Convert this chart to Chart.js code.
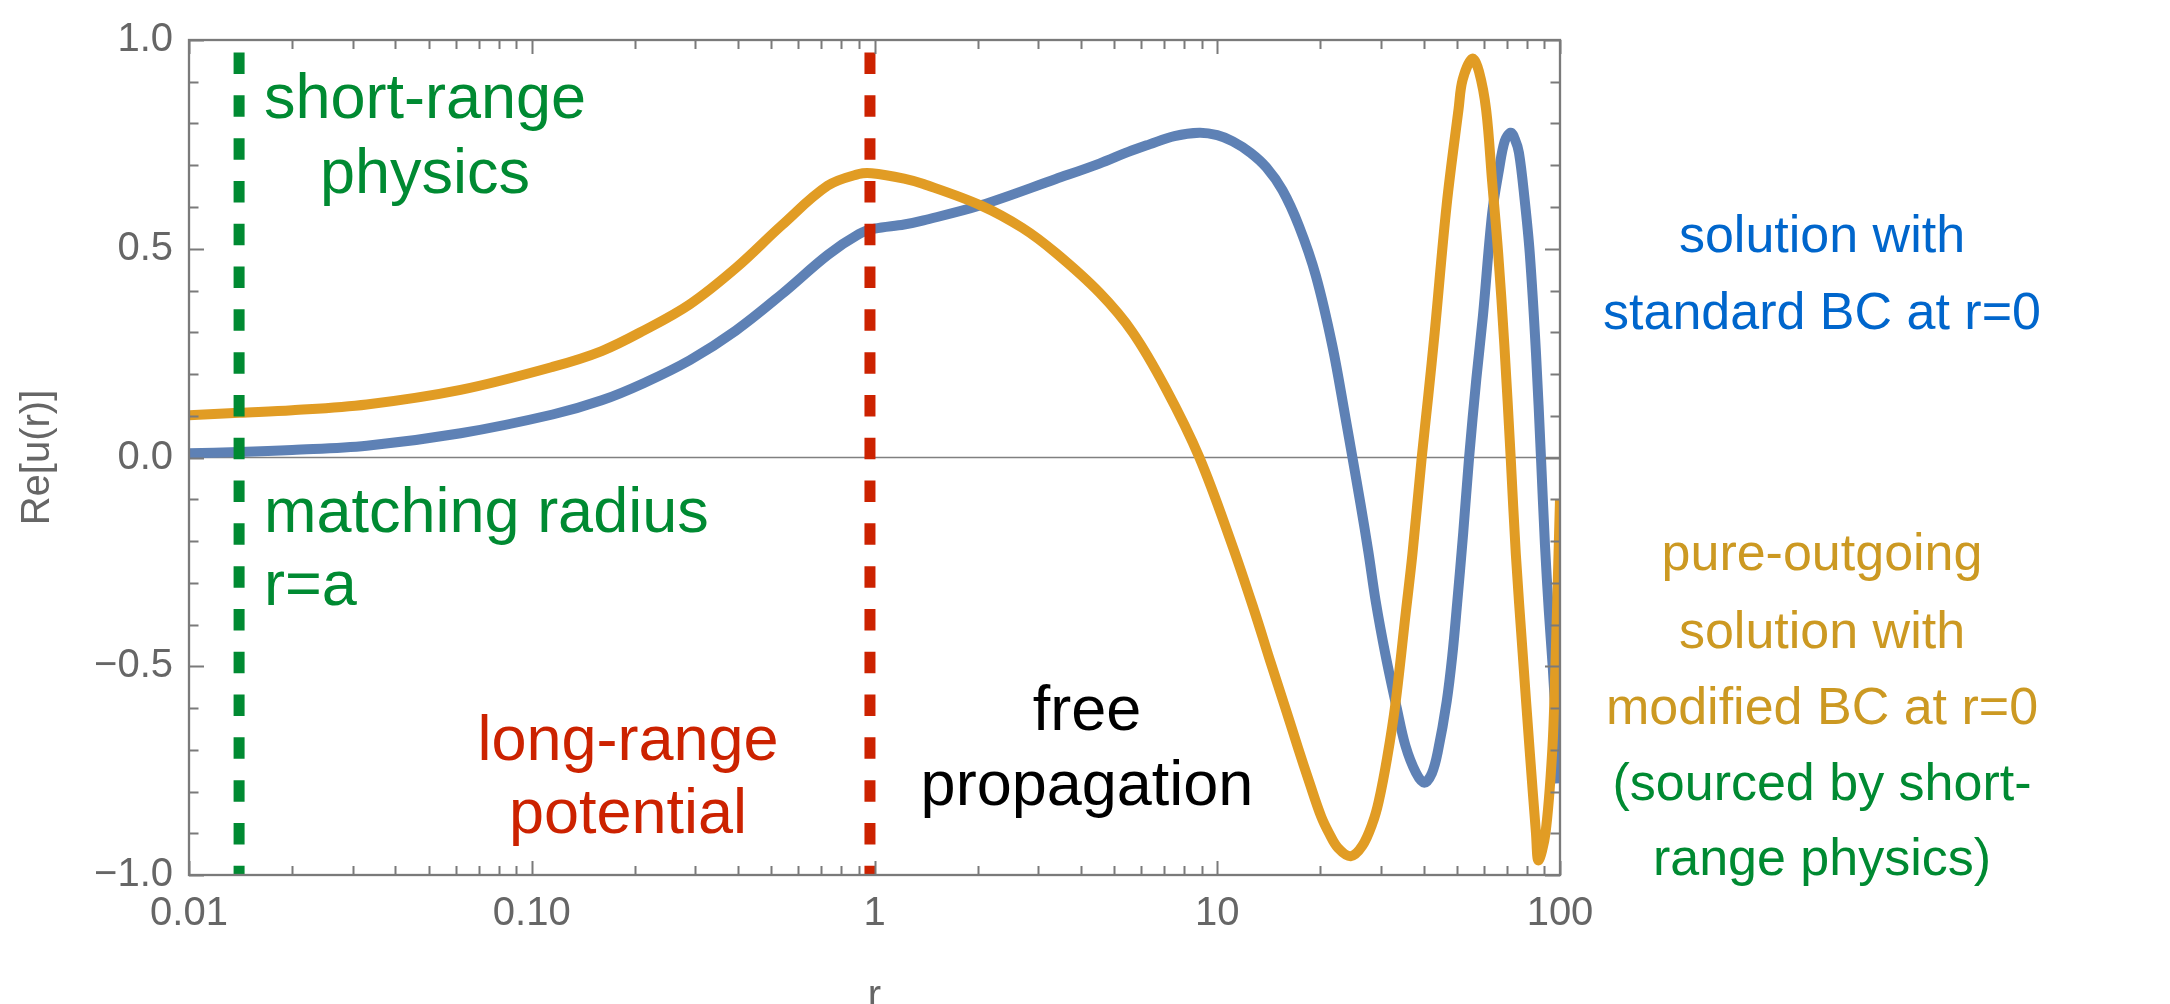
<!DOCTYPE html>
<html>
<head>
<meta charset="utf-8">
<script src="https://cdn.jsdelivr.net/npm/chart.js@4.4.1/dist/chart.umd.min.js"></script>
<style>
  html, body { margin: 0; padding: 0; background: #fff; }
  canvas { display: block; }
</style>
</head>
<body>
<canvas id="waveChart" width="2170" height="1004"></canvas>
<script>
// solution with the standard boundary condition at r = 0
const rBlue = [0.01, 0.014, 0.02, 0.033, 0.062, 0.115, 0.16, 0.212, 0.289, 0.394, 0.536, 0.73, 0.9, 1.0,
  1.22, 1.39, 2.04, 3.38, 4.53, 5.5, 6.34, 7.5, 8.87, 10.0, 11.1, 12.5, 13.9, 15.5, 17.3, 19.4, 21.7, 23.7,
  24.8, 26.2, 27.6, 29.0, 31.0, 33.4, 35.4, 38.0, 40.2, 42.3, 44.0, 46.7, 48.5, 50.1, 52.2, 54.3, 57.0,
  59.6, 63.4, 66.4, 69.0, 71.8, 73.8, 75.9, 78.8, 81.6, 85.1, 88.0, 90.4, 92.8, 95.2, 97.6, 100];
const reBlue = [0.010, 0.013, 0.018, 0.028, 0.058, 0.103, 0.137, 0.178, 0.233, 0.304, 0.391, 0.485, 0.535, 0.548,
  0.558, 0.568, 0.604, 0.667, 0.704, 0.732, 0.750, 0.770, 0.778, 0.772, 0.757, 0.730, 0.695, 0.640, 0.555, 0.435, 0.265, 0.092,
  0.0, -0.113, -0.226, -0.345, -0.475, -0.600, -0.690, -0.755, -0.779, -0.756, -0.705, -0.585, -0.475, -0.350, -0.180, 0.0, 0.188,
  0.340, 0.585, 0.690, 0.758, 0.778, 0.763, 0.730, 0.620, 0.490, 0.250, 0.0, -0.210, -0.370, -0.500, -0.650, -0.780];

// pure-outgoing solution with the modified boundary condition
const rOrange = [0.01, 0.014, 0.02, 0.033, 0.062, 0.115, 0.16, 0.212, 0.289, 0.394, 0.536, 0.73, 0.9, 0.98,
  1.22, 1.39, 2.04, 2.7, 3.38, 4.53, 5.66, 7.08, 8.87, 11.0, 12.8, 14.3, 15.8, 17.2, 18.6, 20.1, 21.2, 22.5,
  24.5, 26.5, 28.4, 29.6, 31.3, 33.1, 35.5, 37.1, 39.5, 41.3, 43.1, 46.7, 50.6, 52.0, 55.5, 58.0, 60.9,
  63.4, 66.0, 68.8, 71.8, 74.3, 77.8, 81.6, 85.1, 86.5, 90.7, 94.9, 96.9, 100];
const reOrange = [0.101, 0.107, 0.113, 0.127, 0.162, 0.217, 0.255, 0.304, 0.367, 0.454, 0.556, 0.651, 0.679, 0.681,
  0.668, 0.655, 0.604, 0.550, 0.490, 0.395, 0.300, 0.165, 0.0, -0.205, -0.365, -0.490, -0.600, -0.695, -0.780, -0.860, -0.900, -0.935,
  -0.955, -0.930, -0.875, -0.823, -0.720, -0.590, -0.370, -0.232, 0.0, 0.150, 0.300, 0.605, 0.835, 0.905, 0.955, 0.925, 0.832,
  0.660, 0.490, 0.270, 0.0, -0.230, -0.468, -0.704, -0.900, -0.965, -0.900, -0.704, -0.507, -0.100];

// region boundaries (r = a and the end of the long-range potential)
const matchingRadius = 0.014;
const potentialEdge = 0.97;

const xTickValues = [0.01, 0.1, 1, 10, 100];
const xTickLabels = ['0.01', '0.10', '1', '10', '100'];
const yTickValues = [-1, -0.5, 0, 0.5, 1];
const yTickLabels = ['\u22121.0', '\u22120.5', '0.0', '0.5', '1.0'];

const FONT = '"Liberation Sans", Arial, sans-serif';
const TICK_GRAY = '#666666';
const FRAME_GRAY = '#7a7a7a';
const GREEN = '#008a32';
const RED = '#cc2200';

function toPoints(xs, ys) {
  return xs.map((x, i) => ({ x: x, y: ys[i] }));
}

// text annotations, canvas pixel positions (baseline)
const notes = [
  { text: 'short-range', x: 425, y: 118, color: GREEN, size: 63, align: 'center' },
  { text: 'physics', x: 425, y: 193, color: GREEN, size: 63, align: 'center' },
  { text: 'matching radius', x: 264, y: 532, color: GREEN, size: 63, align: 'left' },
  { text: 'r=a', x: 264, y: 605, color: GREEN, size: 63, align: 'left' },
  { text: 'long-range', x: 628, y: 760, color: RED, size: 63, align: 'center' },
  { text: 'potential', x: 628, y: 833, color: RED, size: 63, align: 'center' },
  { text: 'free', x: 1087, y: 730, color: '#000000', size: 63, align: 'center' },
  { text: 'propagation', x: 1087, y: 805, color: '#000000', size: 63, align: 'center' },
  { text: 'solution with', x: 1822, y: 252, color: '#0066cc', size: 52, align: 'center' },
  { text: 'standard BC at r=0', x: 1822, y: 329, color: '#0066cc', size: 52, align: 'center' },
  { text: 'pure-outgoing', x: 1822, y: 570, color: '#cc9922', size: 52, align: 'center' },
  { text: 'solution with', x: 1822, y: 648, color: '#cc9922', size: 52, align: 'center' },
  { text: 'modified BC at r=0', x: 1822, y: 724, color: '#cc9922', size: 52, align: 'center' },
  { text: '(sourced by short-', x: 1822, y: 800, color: GREEN, size: 52, align: 'center' },
  { text: 'range physics)', x: 1822, y: 875, color: GREEN, size: 52, align: 'center' }
];

const framePlugin = {
  id: 'frame',
  beforeDatasetsDraw(chart) {
    const { ctx, chartArea: a, scales: { y } } = chart;
    const y0 = y.getPixelForValue(0);
    ctx.save();
    ctx.strokeStyle = '#808080';
    ctx.lineWidth = 1.5;
    ctx.beginPath();
    ctx.moveTo(a.left, y0);
    ctx.lineTo(a.right, y0);
    ctx.stroke();
    ctx.restore();
  },
  afterDatasetsDraw(chart) {
    const { ctx, chartArea: a, scales: { x, y } } = chart;
    ctx.save();
    ctx.strokeStyle = FRAME_GRAY;
    ctx.lineWidth = 2;
    ctx.beginPath();
    // log ticks on bottom and top edges, pointing inward
    for (let e = -2; e <= 2; e++) {
      for (let m = 1; m <= 9; m++) {
        const v = m * Math.pow(10, e);
        if (v > 100.001) break;
        const px = Math.round(x.getPixelForValue(v)) + 0.5;
        const len = m === 1 ? 14 : 9;
        ctx.moveTo(px, a.bottom); ctx.lineTo(px, a.bottom - len);
        ctx.moveTo(px, a.top); ctx.lineTo(px, a.top + len);
      }
    }
    // ticks every 0.1 on left and right edges
    for (let k = -10; k <= 10; k++) {
      const py = Math.round(y.getPixelForValue(k / 10)) + 0.5;
      const len = k % 5 === 0 ? 15 : 9.5;
      ctx.moveTo(a.left, py); ctx.lineTo(a.left + len, py);
      ctx.moveTo(a.right, py); ctx.lineTo(a.right - len, py);
    }
    ctx.stroke();
    ctx.lineWidth = 2.3;
    ctx.strokeRect(a.left, a.top, a.right - a.left, a.bottom - a.top);
    ctx.restore();
  },
  afterDraw(chart) {
    const ctx = chart.ctx;
    ctx.save();
    ctx.textBaseline = 'alphabetic';
    notes.forEach(n => {
      ctx.font = n.size + 'px ' + FONT;
      ctx.fillStyle = n.color;
      ctx.textAlign = n.align;
      ctx.fillText(n.text, n.x, n.y);
    });
    ctx.restore();
  }
};

const ctx = document.getElementById('waveChart').getContext('2d');

const waveChart = new Chart(ctx, {
  type: 'line',
  data: {
    datasets: [
      {
        label: 'r = a',
        data: [{ x: matchingRadius, y: 0.97 }, { x: matchingRadius, y: -1 }],
        borderColor: GREEN,
        borderWidth: 11,
        borderDash: [21.5, 21.3],
        pointRadius: 0,
        tension: 0,
        order: 0
      },
      {
        label: 'long-range edge',
        data: [{ x: potentialEdge, y: 0.97 }, { x: potentialEdge, y: -1 }],
        borderColor: RED,
        borderWidth: 11,
        borderDash: [21.5, 21.3],
        pointRadius: 0,
        tension: 0,
        order: 0
      },
      {
        label: 'pure-outgoing, modified BC',
        data: toPoints(rOrange, reOrange),
        borderColor: '#e19c24',
        borderWidth: 10,
        pointRadius: 0,
        tension: 0.35,
        order: 1
      },
      {
        label: 'standard BC',
        data: toPoints(rBlue, reBlue),
        borderColor: '#5e81b5',
        borderWidth: 10,
        pointRadius: 0,
        tension: 0.35,
        order: 2
      }
    ]
  },
  options: {
    responsive: false,
    animation: false,
    layout: { padding: { top: 29, right: 610, left: 0, bottom: 0 } },
    plugins: {
      legend: { display: false },
      tooltip: { enabled: false }
    },
    scales: {
      x: {
        type: 'logarithmic',
        min: 0.01,
        max: 100,
        grid: { display: false, drawTicks: false },
        border: { display: false },
        afterBuildTicks: scale => { scale.ticks = xTickValues.map(v => ({ value: v })); },
        afterFit: scale => { scale.height = 129; },
        ticks: {
          autoSkip: false,
          maxRotation: 0,
          padding: 15,
          color: TICK_GRAY,
          font: { family: FONT, size: 40 },
          callback: (value, index) => xTickLabels[index]
        },
        title: {
          display: true,
          text: 'r',
          color: TICK_GRAY,
          font: { family: FONT, size: 40, lineHeight: 1 },
          padding: { top: 0, bottom: -13 }
        }
      },
      y: {
        type: 'linear',
        min: -1,
        max: 1,
        grid: { display: false, drawTicks: false },
        border: { display: false },
        afterBuildTicks: scale => { scale.ticks = yTickValues.map(v => ({ value: v })); },
        afterFit: scale => { scale.width = 189; },
        ticks: {
          padding: 16,
          color: TICK_GRAY,
          font: { family: FONT, size: 40 },
          callback: (value, index) => yTickLabels[index]
        },
        title: {
          display: true,
          text: 'Re[u(r)]',
          color: TICK_GRAY,
          font: { family: FONT, size: 40 },
          padding: { top: 14, bottom: 0 }
        }
      }
    }
  },
  plugins: [framePlugin]
});
</script>
</body>
</html>
